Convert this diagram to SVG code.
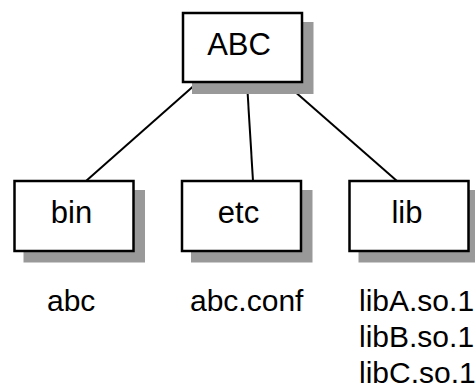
<svg xmlns="http://www.w3.org/2000/svg" width="475" height="389" viewBox="0 0 475 389">
<style>
.box{fill:#fff;stroke:#000;stroke-width:2.5}
.shadow{fill:#999}
.t{font-family:"Liberation Sans",Arial,Helvetica,sans-serif;fill:#000}
.nt{font-size:31px;text-anchor:middle}
.lt{font-size:30px}
.edge{stroke:#000;stroke-width:2;fill:none}
</style>
<rect width="475" height="389" fill="#fff"/>
<g id="connectors">
<line class="edge" x1="197" y1="83" x2="86" y2="181"/>
<line class="edge" x1="247" y1="83" x2="253" y2="181"/>
<line class="edge" x1="285" y1="83" x2="397" y2="181"/>
</g>
<g id="node-abc">
<rect class="shadow" x="192" y="22" width="121.5" height="72"/>
<rect class="box" x="183" y="13" width="119" height="69"/>
<text class="t nt" x="239" y="55">ABC</text>
</g>
<g id="node-bin">
<rect class="shadow" x="23.5" y="190" width="121.5" height="72.5"/>
<rect class="box" x="14.5" y="181" width="119" height="70"/>
<text class="t nt" x="71.5" y="223">bin</text>
</g>
<g id="node-etc">
<rect class="shadow" x="191" y="190" width="121.5" height="72.5"/>
<rect class="box" x="182" y="181" width="119" height="70"/>
<text class="t nt" x="238.5" y="223">etc</text>
</g>
<g id="node-lib">
<rect class="shadow" x="358.5" y="190" width="121.5" height="72.5"/>
<rect class="box" x="349.5" y="181" width="119" height="70"/>
<text class="t nt" x="407" y="223">lib</text>
</g>
<g id="labels">
<text class="t lt" x="47" y="311">abc</text>
<text class="t lt" x="190" y="311">abc.conf</text>
<text class="t lt" x="359" y="311">libA.so.1</text>
<text class="t lt" x="359" y="347">libB.so.1</text>
<text class="t lt" x="359" y="383">libC.so.1</text>
</g>
</svg>
